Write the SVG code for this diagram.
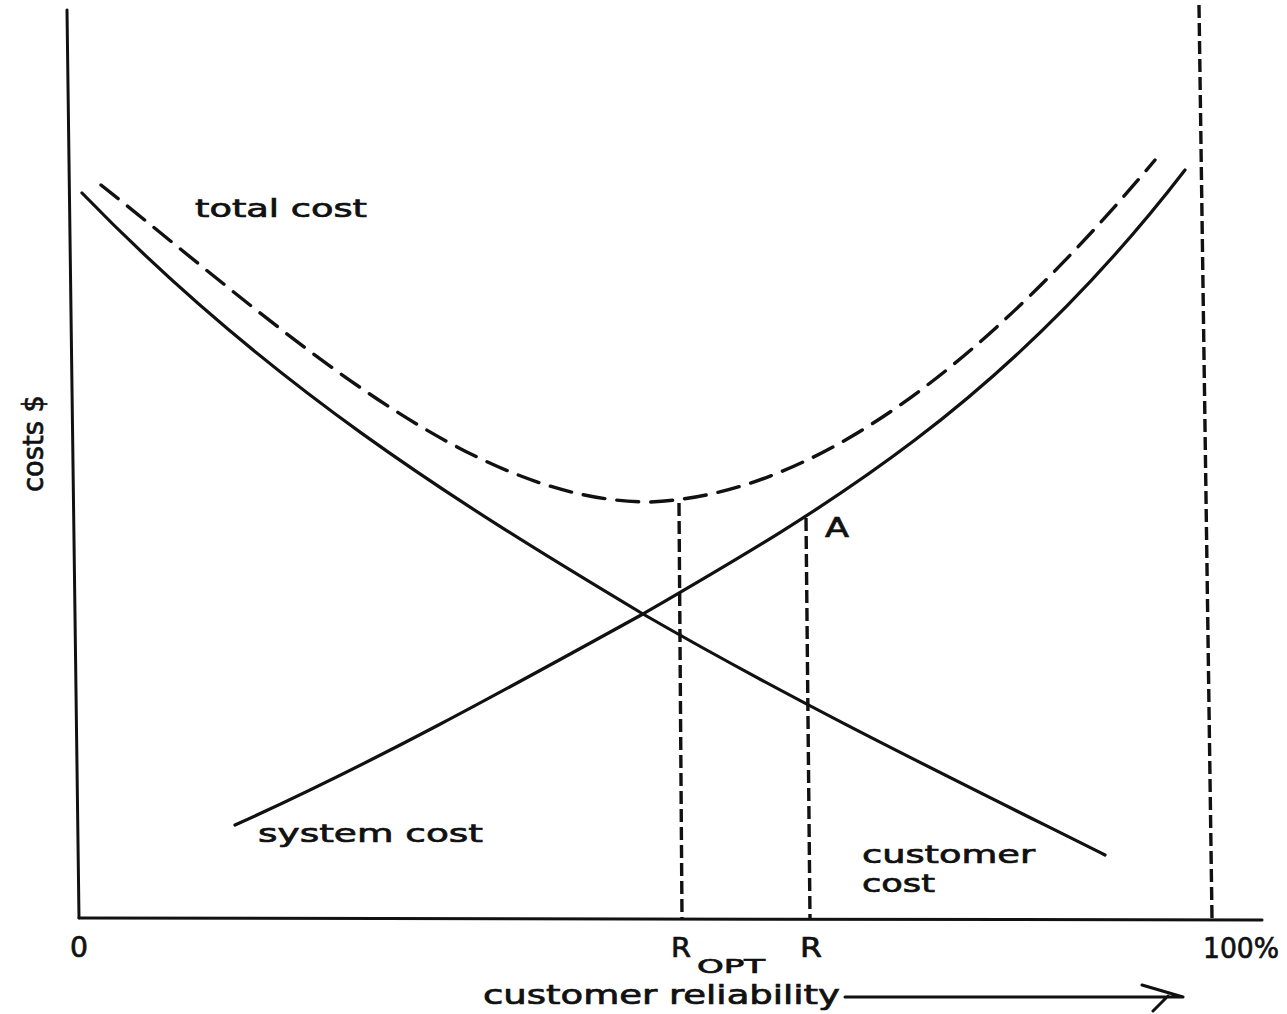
<svg xmlns="http://www.w3.org/2000/svg" width="1287" height="1014" viewBox="0 0 1287 1014">
<style>
  .ax { fill: none; stroke: #111; stroke-width: 3; stroke-linecap: round; }
  .curve { fill: none; stroke: #111; stroke-width: 3.2; stroke-linecap: round; }
  .tot { fill: none; stroke: #111; stroke-width: 3.4; stroke-dasharray: 22 12; stroke-linecap: round; }
  .vd { fill: none; stroke: #111; stroke-width: 3.4; stroke-dasharray: 13 5; }
  .lbl { font-family: "DejaVu Sans", "Liberation Sans", sans-serif; fill: #111; stroke: #111; stroke-width: 0.7; }
</style>
<rect width="1287" height="1014" fill="#fff"/>
<g id="axes">
  <path class="ax" d="M67,10 L79,918"/>
  <path class="ax" d="M79,918 L1262,920"/>
</g>
<g id="connectors">
  <path id="customer-cost" class="curve" d="M82,193 C269,386 456,502 643,614 C797,703 951,778 1105,855"/>
  <path id="system-cost" class="curve" d="M235,825 C371,764 507,689 643,614 C824,509 1004,405 1185,170"/>
  <path id="total-cost" class="tot" d="M101,185 C284,330 467,502 650,502 C818,495 987,360 1155,160"/>
  <path id="r-opt-line" class="vd" d="M679,503 L682,918"/>
  <path id="r-line" class="vd" d="M806,518 L810,918"/>
  <path id="hundred-line" class="vd" d="M1199,5 L1212,918"/>
  <path id="x-arrow" class="ax" d="M845,997 L1183,997 M1142,985 L1183,997 M1153,1011 L1168,996"/>
</g>
<g id="label-total-cost"><text class="lbl" x="195" y="217" font-size="25" textLength="172" lengthAdjust="spacingAndGlyphs">total cost</text></g>
<g id="label-system-cost"><text class="lbl" x="258" y="842" font-size="25" textLength="225" lengthAdjust="spacingAndGlyphs">system cost</text></g>
<g id="label-customer-cost">
  <text class="lbl" x="862" y="863" font-size="25" textLength="173" lengthAdjust="spacingAndGlyphs">customer</text>
  <text class="lbl" x="862" y="892" font-size="25" textLength="73" lengthAdjust="spacingAndGlyphs">cost</text>
</g>
<g id="label-A"><text class="lbl" x="825" y="537" font-size="27" textLength="24" lengthAdjust="spacingAndGlyphs">A</text></g>
<g id="label-0"><text class="lbl" x="70" y="957" font-size="28" textLength="18" lengthAdjust="spacingAndGlyphs">0</text></g>
<g id="label-ropt">
  <text class="lbl" x="671" y="957" font-size="26" textLength="20" lengthAdjust="spacingAndGlyphs">R</text>
  <text class="lbl" x="697" y="973" font-size="19" textLength="68" lengthAdjust="spacingAndGlyphs">OPT</text>
</g>
<g id="label-r"><text class="lbl" x="800" y="957" font-size="26" textLength="22" lengthAdjust="spacingAndGlyphs">R</text></g>
<g id="label-100"><text class="lbl" x="1203" y="958" font-size="29" textLength="76" lengthAdjust="spacingAndGlyphs">100%</text></g>
<g id="label-x"><text class="lbl" x="483" y="1004" font-size="26" textLength="357" lengthAdjust="spacingAndGlyphs">customer reliability</text></g>
<g id="label-y"><text class="lbl" transform="translate(43,492) rotate(-90)" font-size="28" textLength="97" lengthAdjust="spacingAndGlyphs">costs $</text></g>
</svg>
